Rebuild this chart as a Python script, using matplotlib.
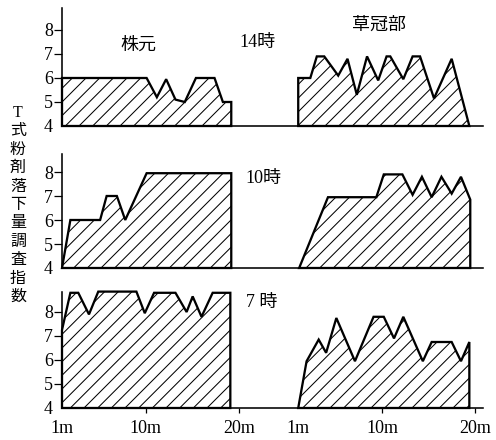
import matplotlib.pyplot as plt

DPI = 82  # hatch spacing follows dpi, so the figure is sized for it
W, H = 497, 440
plt.rcParams['hatch.linewidth'] = 0.9
JP = ['Liberation Serif', 'Noto Sans CJK JP']


def pt(px):
    return px * 72 / DPI


# distance (m) and index
# 14時
base14_x = [1.0, 1.0, 10.1, 11.2, 12.2, 13.2, 14.2, 15.4, 17.4, 18.3, 19.2, 19.2]
base14_y = [4, 6.0, 6.0, 5.2, 5.95, 5.1, 5.0, 6.0, 6.0, 5.0, 5.0, 4]
crown14_x = [1.0, 1.0, 2.3, 3.0, 3.8, 5.3, 6.3, 7.3, 8.4, 9.6, 10.5, 10.9,
             12.3, 13.3, 14.1, 15.6, 17.5, 19.4]
crown14_y = [4, 6.0, 6.0, 6.9, 6.9, 6.1, 6.8, 5.3, 6.9, 5.9, 6.9, 6.9,
             5.95, 6.9, 6.9, 5.15, 6.8, 4]

# 10時
base10_x = [1.0, 1.9, 5.1, 5.8, 6.9, 7.8, 10.1, 19.2, 19.2]
base10_y = [4, 6.0, 6.0, 7.0, 7.0, 6.0, 7.95, 7.95, 4]
crown10_x = [1.1, 4.2, 9.4, 10.2, 12.2, 13.3, 14.3, 15.35, 16.4, 17.5,
             18.5, 19.5, 19.5]
crown10_y = [4, 6.95, 6.95, 7.9, 7.9, 7.05, 7.8, 6.95, 7.8, 7.1,
             7.8, 6.85, 4]

# 7時
base7_x = [1.0, 1.0, 1.9, 2.75, 3.9, 4.9, 9.0, 9.9, 10.9, 13.2, 14.4, 15.05,
           16.0, 17.2, 19.1, 19.1]
base7_y = [4, 7.25, 8.8, 8.8, 7.9, 8.85, 8.85, 7.95, 8.8, 8.8, 8.0, 8.65,
           7.8, 8.8, 8.8, 4]
crown7_x = [1.0, 1.9, 3.2, 4.0, 5.1, 7.1, 9.1, 10.2, 11.3, 12.3, 14.4,
            15.35, 17.5, 18.5, 19.4, 19.4]
crown7_y = [4, 5.95, 6.85, 6.3, 7.75, 5.95, 7.8, 7.8, 6.9, 7.8, 5.95,
            6.75, 6.75, 5.95, 6.75, 4]

panels = [
    ('14時', base14_x, base14_y, crown14_x, crown14_y, 126, 8.9, (257, 43)),
    ('10時', base10_x, base10_y, crown10_x, crown10_y, 268, 8.75, (263, 178)),
    ('7 時', base7_x, base7_y, crown7_x, crown7_y, 408, 8.85, (262, 302)),
]
y_ticks = [4, 5, 6, 7, 8]
x_ticks = [1, 10, 20]
x_tick_labels = ['1m', '10m', '20m']
y_label = 'T式粉剤落下量調査指数'

OFF = 25.4        # right block (草冠部) starts here on the shared x scale
PX_X = 9.3        # pixels per metre
PX_Y = 24         # pixels per index unit
X_MAX = 46.3

fig = plt.figure(figsize=(W / DPI, H / DPI), dpi=DPI)

for i, (hour, bx, by, cx, cy, y0, ytop, hpos) in enumerate(panels):
    h = (ytop - 4) * PX_Y
    ax = fig.add_axes([62 / W, 1 - y0 / H, (X_MAX - 1) * PX_X / W, h / H])
    ax.fill(bx, by, facecolor='white', edgecolor='black', hatch='//',
            lw=2.0, clip_on=False)
    ax.fill([x + OFF for x in cx], cy, facecolor='white', edgecolor='black',
            hatch='//', lw=2.0, clip_on=False)
    ax.set_xlim(1, X_MAX)
    ax.set_ylim(4, ytop)
    for s in ['top', 'right']:
        ax.spines[s].set_visible(False)
    for s in ['left', 'bottom']:
        ax.spines[s].set_linewidth(1.4)

    ax.set_yticks(y_ticks)
    ax.set_yticklabels([str(t) for t in y_ticks], family=JP, fontsize=pt(18))
    ax.tick_params(axis='y', length=pt(8), width=1.1, pad=pt(1))
    ax.yaxis.get_major_ticks()[0].tick1line.set_visible(False)

    if i == 2:
        ax.set_xticks(x_ticks + [t + OFF for t in x_ticks])
        ax.set_xticklabels(x_tick_labels * 2, family=JP, fontsize=pt(18))
        ax.tick_params(axis='x', length=pt(5), width=1.1, pad=pt(7))
        ax.xaxis.get_major_ticks()[0].tick1line.set_visible(False)
        ax.xaxis.get_major_ticks()[3].tick1line.set_visible(False)
    else:
        ax.set_xticks([])

    fig.text(hpos[0] / W, 1 - hpos[1] / H, hour, family=JP, fontsize=pt(18),
             ha='center', va='center')

fig.text(138 / W, 1 - 45 / H, '株元', family=JP, fontsize=pt(18),
         ha='center', va='center')
fig.text(379 / W, 1 - 25 / H, '草冠部', family=JP, fontsize=pt(18),
         ha='center', va='center')

for k, ch in enumerate(y_label):
    fig.text(18 / W, 1 - (113 + k * 18.4) / H, ch, family=JP,
             fontsize=pt(16), ha='center', va='center')

fig.savefig('out.png', dpi=DPI)
